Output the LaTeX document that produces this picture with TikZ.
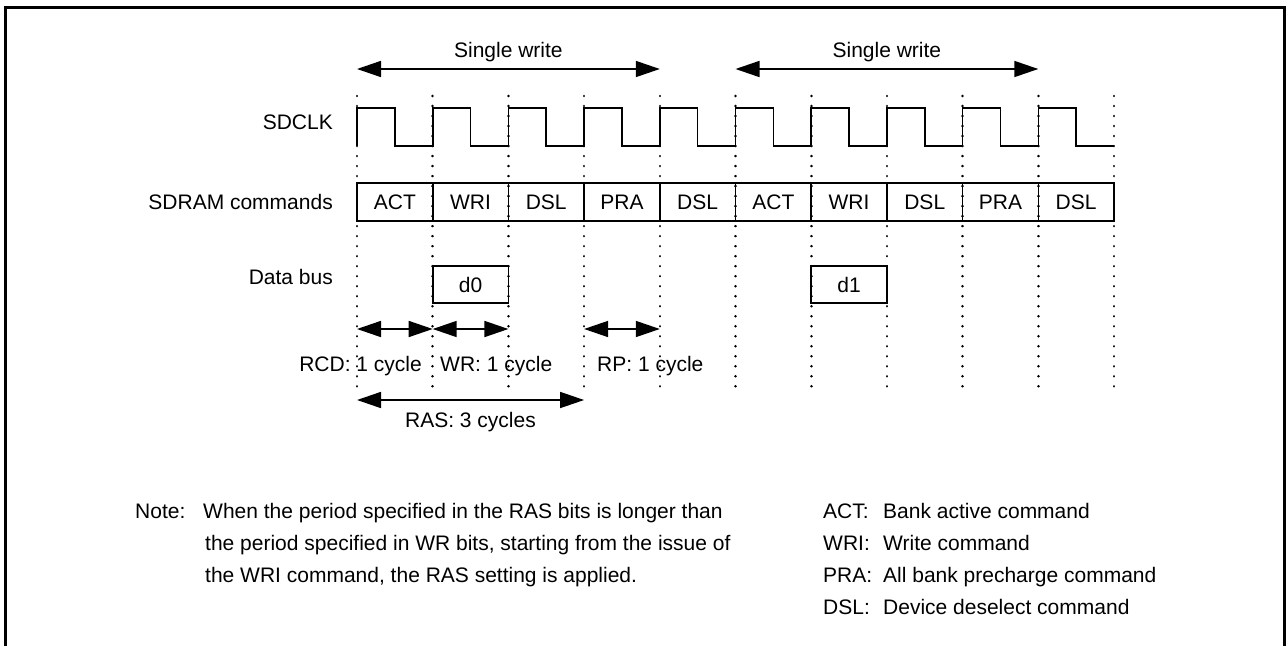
\documentclass[tikz,border=0pt]{standalone}
\usepackage{fontspec}
\setmainfont{Liberation Sans}
\usetikzlibrary{arrows.meta}

\tikzset{
  cell/.style={draw, line width=1.6pt, minimum width=75.7pt, minimum height=38pt},
  bus/.style={draw, line width=1.6pt, minimum width=75.7pt, minimum height=37pt},
  wave/.style={line width=1.6pt, line join=miter},
  gridline/.style={line width=2.6pt, line cap=round, dash pattern=on 0.01pt off 10pt},
  dim/.style={<->, line width=1.6pt}
}

\begin{document}
\begin{tikzpicture}[>={Triangle[length=24pt,width=16pt]}, x=1pt, y=-1pt,
  every node/.style={inner sep=0pt, text height=15pt, text depth=0pt, font=\fontsize{21}{25}\selectfont}]
\useasboundingbox (0,0) rectangle (1288,646);
\draw[line width=3pt] (5.5,646) -- (5.5,7.5) -- (1284.5,7.5) -- (1284.5,646);

% signal names
\node[anchor=east] (clk) at (333,122) {SDCLK};
\node[anchor=east] (cmd) at (333,202) {SDRAM commands};
\node[anchor=east] (bus) at (333,277) {Data bus};

% cycle grid
\foreach \x in {357,432.7,508.4,584.1,659.8,735.5,811.2,886.9,962.6,1038.3,1114}
  \draw[gridline] (\x,96) -- (\x,396);

% clock
\draw[wave] (357,146) foreach \i in {0,...,9} {-- ++(0,-38) -- ++(37.85,0) -- ++(0,38) -- ++(37.85,0)};

% commands
\node[cell] (c1) at (394.85,202) {ACT};
\node[cell] (c2) at (470.55,202) {WRI};
\node[cell] (c3) at (546.25,202) {DSL};
\node[cell] (c4) at (621.95,202) {PRA};
\node[cell] (c5) at (697.65,202) {DSL};
\node[cell] (c6) at (773.35,202) {ACT};
\node[cell] (c7) at (849.05,202) {WRI};
\node[cell] (c8) at (924.75,202) {DSL};
\node[cell] (c9) at (1000.45,202) {PRA};
\node[cell] (c10) at (1076.15,202) {DSL};

% data
\node[bus] (d0) at (470.55,284.5) {d0};
\node[bus] (d1) at (849.05,284.5) {d1};

% single write spans
\coordinate (s1a) at (357,69);
\coordinate (s1b) at (659.8,69);
\coordinate (s2a) at (735.5,69);
\coordinate (s2b) at (1038.3,69);
\draw[dim] (s1a) -- (s1b);
\draw[dim] (s2a) -- (s2b);
\node (sw1) at (508.4,50) {Single write};
\node (sw2) at (886.9,50) {Single write};

% timing parameters
\coordinate (rcda) at (357,329);
\coordinate (rcdb) at (432.7,329);
\coordinate (wra) at (432.7,329);
\coordinate (wrb) at (508.4,329);
\coordinate (rpa) at (584.1,329);
\coordinate (rpb) at (659.8,329);
\coordinate (rasa) at (357,400);
\coordinate (rasb) at (584.1,400);
\draw[dim] (rcda) -- (rcdb);
\draw[dim] (wra) -- (wrb);
\draw[dim] (rpa) -- (rpb);
\draw[dim] (rasa) -- (rasb);
\node[anchor=east] (rcd) at (422,364) {RCD: 1 cycle};
\node[anchor=west] (wr) at (440,364) {WR: 1 cycle};
\node[anchor=west] (rp) at (597,364) {RP: 1 cycle};
\node (ras) at (470.5,420) {RAS: 3 cycles};

% note
\node[anchor=west] (n0) at (135,511) {Note:};
\node[anchor=west] (n1) at (203,511) {When the period specified in the RAS bits is longer than};
\node[anchor=west] (n2) at (205,543) {the period specified in WR bits, starting from the issue of};
\node[anchor=west] (n3) at (205,575) {the WRI command, the RAS setting is applied.};

% legend
\node[anchor=west] (k1) at (823,511) {ACT:};
\node[anchor=west] (k2) at (823,543) {WRI:};
\node[anchor=west] (k3) at (823,575) {PRA:};
\node[anchor=west] (k4) at (823,607) {DSL:};
\node[anchor=west] (t1) at (883,511) {Bank active command};
\node[anchor=west] (t2) at (883,543) {Write command};
\node[anchor=west] (t3) at (883,575) {All bank precharge command};
\node[anchor=west] (t4) at (883,607) {Device deselect command};
\end{tikzpicture}
\end{document}
